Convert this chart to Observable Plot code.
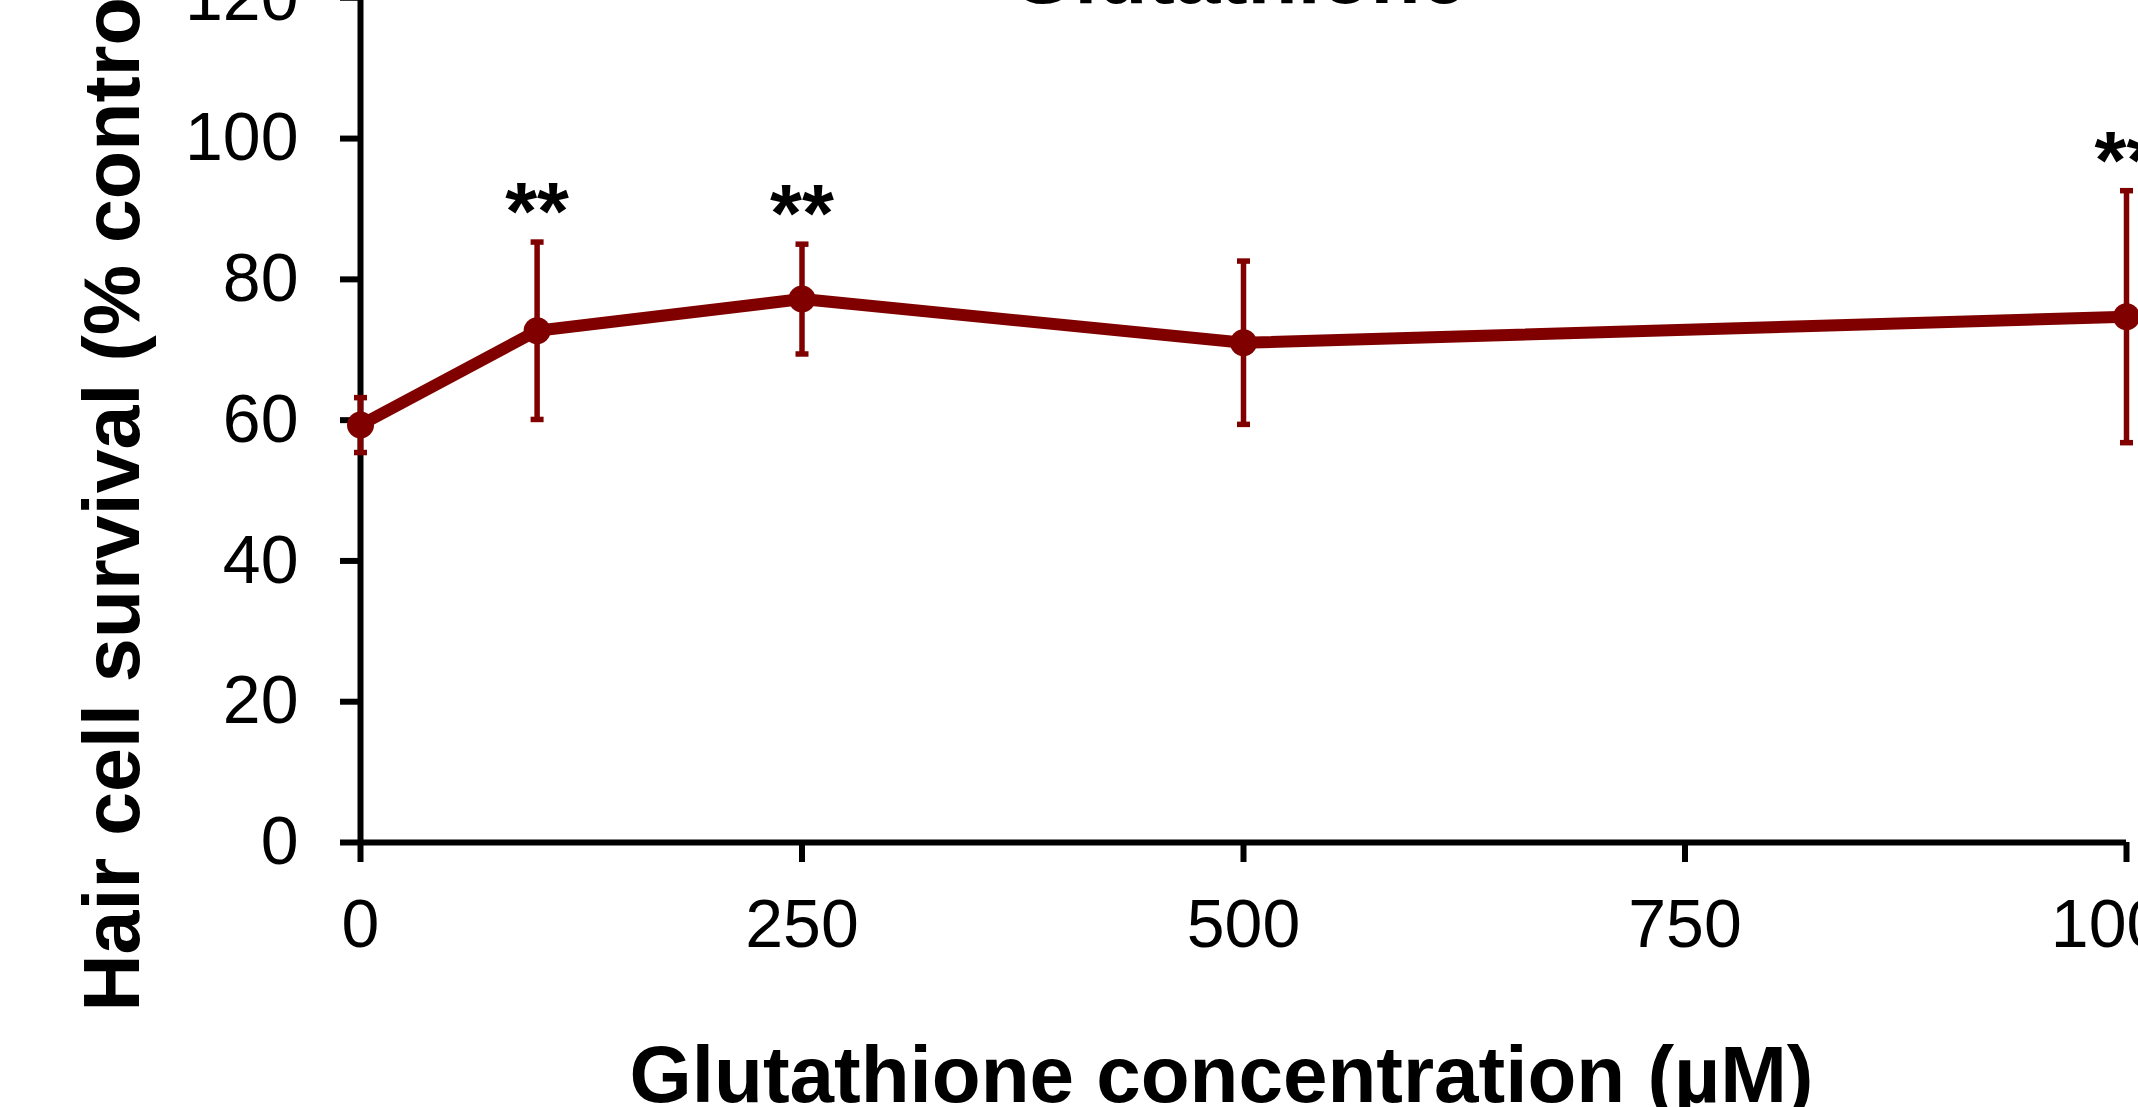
<!DOCTYPE html>
<html>
<head>
<meta charset="utf-8">
<script src="https://cdn.jsdelivr.net/npm/d3@7"></script>
<script src="https://cdn.jsdelivr.net/npm/@observablehq/plot@0.6"></script>
<style>
  html, body { margin: 0; padding: 0; background: #fff; overflow: hidden; }
  #chart svg { display: block; }
</style>
</head>
<body>
<div id="chart"></div>
<script>
// ---- data ----
const concentrations = [0, 100, 250, 500, 1000];          // µM
const survival       = [59.3, 72.7, 77.2, 71.0, 74.7];    // % control (mean)
const errors         = [3.9, 12.6, 7.8, 11.6, 17.9];      // error bar half-length
const significance   = ["", "**", "**", "", "**"];
const xTicks = [0, 250, 500, 750, 1000];
const yTicks = [0, 20, 40, 60, 80, 100, 120];
const chartTitle = "Glutathione";
const xTitle = "Glutathione concentration (µM)";
const yTitle = "Hair cell survival (% control)";

const red = "#800000";
const font = "'Liberation Sans', Arial, Helvetica, sans-serif";

const data = concentrations.map((c, i) => ({
  conc: c,
  survival: survival[i],
  lo: survival[i] - errors[i],
  hi: survival[i] + errors[i],
  sig: significance[i]
}));

// horizontal cap symbol for error bars
const capSymbol = {
  draw(ctx, size) {
    const w = Math.sqrt(size / Math.PI);
    ctx.moveTo(-w, 0);
    ctx.lineTo(w, 0);
  }
};

const W = 2138, H = 1107;
const chart = Plot.plot({
  width: W,
  height: H,
  marginLeft: 360,
  marginRight: 12,
  marginTop: 0,
  marginBottom: 265,
  style: {fontFamily: font, background: "white", color: "black", overflow: "visible"},
  x: {domain: [0, 1000]},
  y: {domain: [0, 120], range: [842, -2.7]},
  marks: [
    Plot.axisX(xTicks, {tickSize: 20, tickPadding: 36, fontSize: 68, strokeWidth: 6, label: null,
      fontFamily: font, tickFormat: d => String(d)}),
    Plot.axisY(yTicks, {tickSize: 20, tickPadding: 42, fontSize: 68, strokeWidth: 6, label: null,
      fontFamily: font, tickFormat: d => String(d)}),
    Plot.ruleX([0], {strokeWidth: 6, stroke: "black"}),
    Plot.ruleY([0], {strokeWidth: 6, stroke: "black"}),
    Plot.ruleX(data, {x: "conc", y1: "lo", y2: "hi", stroke: red, strokeWidth: 5.5}),
    Plot.dot(data, {x: "conc", y: "hi", symbol: capSymbol, r: 6.5, stroke: red, strokeWidth: 5.5, fill: "none"}),
    Plot.dot(data, {x: "conc", y: "lo", symbol: capSymbol, r: 6.5, stroke: red, strokeWidth: 5.5, fill: "none"}),
    Plot.line(data, {x: "conc", y: "survival", stroke: red, strokeWidth: 12}),
    Plot.dot(data, {x: "conc", y: "survival", r: 13.5, fill: red, stroke: "none"}),
    Plot.text(data.filter(d => d.sig), {x: "conc", y: "hi", text: "sig", lineAnchor: "bottom", dy: -3,
      fontSize: 82, fontWeight: "bold", fontFamily: font, fill: "black"}),
    Plot.text([chartTitle], {frameAnchor: "top", text: d => d, lineAnchor: "bottom", dx: -5, dy: 2,
      fontSize: 82, fontWeight: "bold", fontFamily: font, fill: "black"}),
    Plot.text([xTitle], {frameAnchor: "bottom", text: d => d, lineAnchor: "bottom", dx: -22, dy: 259,
      fontSize: 80, fontWeight: "bold", fontFamily: font, fill: "black"}),
    Plot.text([yTitle], {frameAnchor: "bottom-left", text: d => d, rotate: -90, textAnchor: "start",
      lineAnchor: "bottom", dx: -222, dy: 169, fontSize: 79, fontWeight: "bold", fontFamily: font, fill: "black"})
  ]
});
document.getElementById("chart").appendChild(chart);
</script>
</body>
</html>
